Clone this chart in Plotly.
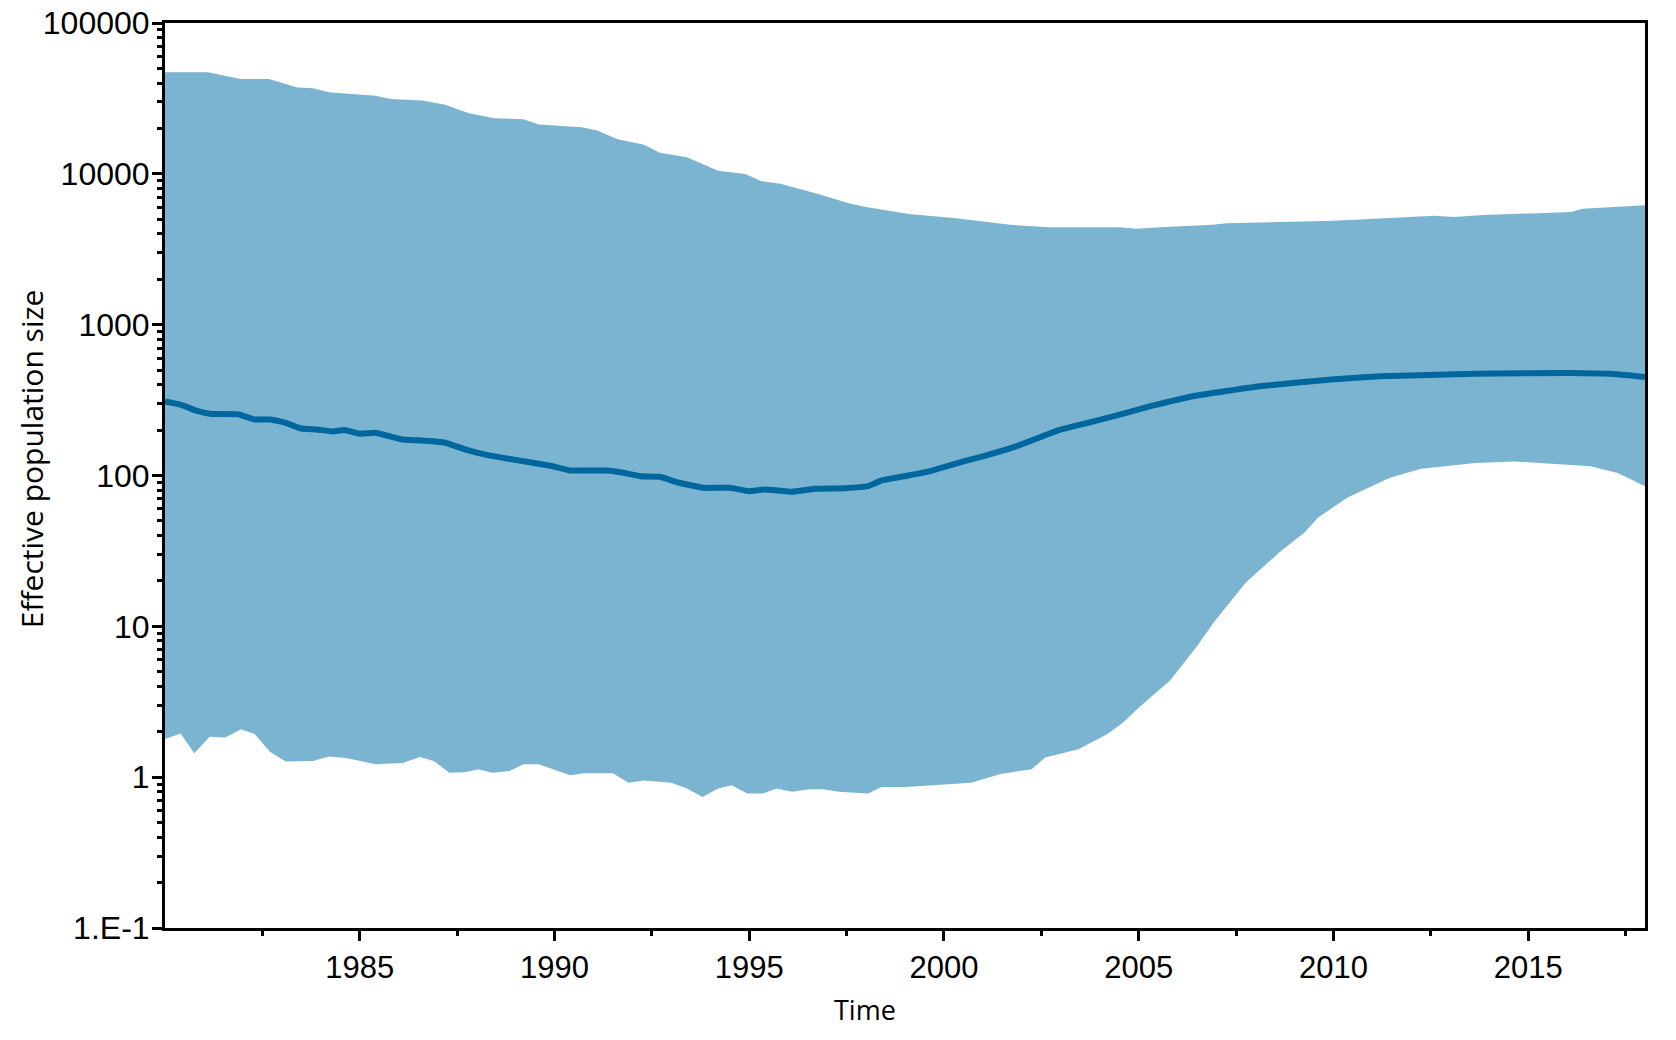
import plotly.graph_objects as go

# ---- data ----
upper_years = [1980.0, 1981.1, 1981.94, 1982.67, 1983.4, 1983.8, 1984.2, 1985.4, 1985.8, 1986.6,
               1987.2, 1987.8, 1988.45, 1989.2, 1989.6, 1990.7, 1991.1, 1991.6, 1992.3, 1992.7,
               1993.4, 1994.2, 1994.9, 1995.3, 1995.8, 1996.75, 1997.6, 1998.0, 1999.1, 2000.25,
               2001.7, 2002.7, 2004.5, 2004.95, 2005.55, 2006.9, 2007.25, 2010.0, 2011.45, 2012.2,
               2012.6, 2013.1, 2013.85, 2016.1, 2016.4, 2018.0]
upper_vals = [47200, 47200, 42500, 42500, 37300, 37000, 34800, 32900, 31300, 30600,
              28700, 25200, 23400, 23000, 21200, 20400, 19400, 17000, 15600, 13800,
              12900, 10500, 9960, 8950, 8600, 7380, 6330, 6020, 5410, 5090,
              4590, 4430, 4430, 4320, 4430, 4590, 4710, 4880, 5090, 5170,
              5270, 5170, 5330, 5580, 5860, 6200]

lower_years = [1980.0, 1980.4, 1980.75, 1981.15, 1981.55, 1981.95, 1982.3, 1982.7, 1983.1, 1983.8,
               1984.2, 1984.65, 1985.4, 1986.1, 1986.55, 1986.9, 1987.3, 1987.7, 1988.05, 1988.4,
               1988.85, 1989.2, 1989.6, 1990.4, 1990.75, 1991.5, 1991.9, 1992.3, 1993.0, 1993.4,
               1993.8, 1994.2, 1994.55, 1994.95, 1995.35, 1995.7, 1996.1, 1996.55, 1996.9, 1997.3,
               1998.05, 1998.4, 1999.0, 1999.6, 2000.7, 2001.45, 2002.25, 2002.6, 2003.45, 2004.2,
               2004.6, 2005.0, 2005.3, 2005.8, 2006.5, 2006.95, 2007.75, 2008.6, 2009.25, 2009.6,
               2010.35, 2011.45, 2012.25, 2013.65, 2014.65, 2016.6, 2017.3, 2018.0]
lower_vals = [1.79, 1.95, 1.44, 1.85, 1.83, 2.08, 1.93, 1.47, 1.27, 1.28,
              1.37, 1.34, 1.22, 1.24, 1.36, 1.28, 1.07, 1.08, 1.13, 1.07,
              1.10, 1.22, 1.22, 1.03, 1.06, 1.06, 0.92, 0.95, 0.92, 0.84,
              0.74, 0.84, 0.885, 0.78, 0.78, 0.84, 0.80, 0.83, 0.83, 0.80,
              0.78, 0.86, 0.86, 0.885, 0.92, 1.05, 1.13, 1.35, 1.53, 1.93,
              2.30, 2.89, 3.37, 4.35, 7.4, 10.8, 19.5, 30.7, 41.7, 52.4,
              71.2, 96.6, 111, 121, 124, 115, 104, 85]

median_years = [1980.0, 1980.4, 1980.8, 1981.2, 1981.9, 1982.3, 1982.7, 1983.1, 1983.5, 1983.9,
                1984.3, 1984.6, 1985.0, 1985.4, 1986.1, 1986.5, 1987.2, 1987.7, 1988.2, 1988.9,
                1989.4, 1989.9, 1990.4, 1990.85, 1991.35, 1991.7, 1992.2, 1992.7, 1993.2, 1993.85,
                1994.5, 1995.0, 1995.4, 1996.1, 1996.7, 1997.45, 1998.05, 1998.4, 1998.9, 1999.65,
                2000.5, 2001.0, 2001.85, 2002.95, 2004.2, 2005.3, 2006.5, 2008.1, 2009.95, 2011.2,
                2013.65, 2016.1, 2017.1, 2018.0]
median_vals = [310, 295, 269, 256, 254, 235, 235, 223, 205, 202,
               196, 200, 189, 192, 173, 171, 165, 149, 138, 128,
               122, 116, 108, 108, 108, 105, 99, 98, 89.5, 82.8,
               82.8, 78.7, 80.8, 78, 81.6, 82.4, 85, 92.7, 98, 107,
               124, 134, 156, 200, 241, 288, 339, 391, 433, 455,
               472, 479, 472, 450]

x_tick_vals = [1985, 1990, 1995, 2000, 2005, 2010, 2015]
x_minor_vals = [1982.5, 1987.5, 1992.5, 1997.5, 2002.5, 2007.5, 2012.5, 2017.5]
y_tick_vals = [0.1, 1, 10, 100, 1000, 10000, 100000]
y_tick_text = ["1.E-1", "1", "10", "100", "1000", "10000", "100000"]
y_minor_vals = [k * 10.0 ** e for e in range(-1, 5) for k in range(2, 10)]

BAND = "rgb(122,180,209)"
LINE = "rgb(0,102,158)"

fig = go.Figure()
fig.add_trace(go.Scatter(
    x=upper_years + lower_years[::-1],
    y=upper_vals + lower_vals[::-1],
    fill="toself", fillcolor=BAND, mode="lines",
    line=dict(width=0, color=BAND), hoverinfo="skip"))
fig.add_trace(go.Scatter(
    x=median_years, y=median_vals, mode="lines",
    line=dict(width=6, color=LINE, shape="spline", smoothing=0.3)))

x_tick_font = dict(family="Liberation Sans, Arial, sans-serif", size=31, color="black")
y_tick_font = dict(family="Liberation Sans, Arial, sans-serif", size=32, color="black")
title_font_x = dict(family="Open Sans, sans-serif", size=27, color="black")
title_font_y = dict(family="Open Sans, sans-serif", size=30, color="black")

fig.update_layout(
    width=1676, height=1040,
    margin=dict(l=165, r=31, t=23, b=112, autoexpand=False),
    plot_bgcolor="white", paper_bgcolor="white",
    showlegend=False,
    xaxis=dict(
        range=[1980, 2018], tickmode="array", tickvals=x_tick_vals,
        ticks="outside", ticklen=10, tickwidth=3, tickcolor="black",
        showline=True, linewidth=3, linecolor="black", mirror=True,
        showgrid=False, zeroline=False, tickfont=x_tick_font, automargin=False,
        minor=dict(tickmode="array", tickvals=x_minor_vals, ticks="outside",
                   ticklen=5, tickwidth=3, tickcolor="black", showgrid=False),
    ),
    yaxis=dict(
        type="log", range=[-1, 5], tickmode="array",
        tickvals=y_tick_vals, ticktext=y_tick_text,
        ticks="outside", ticklen=10, tickwidth=3, tickcolor="black",
        showline=True, linewidth=3, linecolor="black", mirror=True,
        showgrid=False, zeroline=False, tickfont=y_tick_font, automargin=False,
        ticklabelstandoff=-4,
        minor=dict(tickmode="array", tickvals=y_minor_vals, ticks="outside",
                   ticklen=5, tickwidth=3, tickcolor="black", showgrid=False),
    ),
    annotations=[
        dict(text="Time", xref="paper", yref="paper", x=0.473, y=-0.0906,
             xanchor="center", yanchor="middle", showarrow=False, font=title_font_x),
        dict(text="Effective population size", xref="paper", yref="paper",
             x=-0.0905, y=0.518, xanchor="center", yanchor="middle",
             textangle=-90, showarrow=False, font=title_font_y),
    ],
)

fig.write_html("out.html", config={"displayModeBar": False},
               post_script="document.body.style.margin='0';document.body.style.padding='0';")
